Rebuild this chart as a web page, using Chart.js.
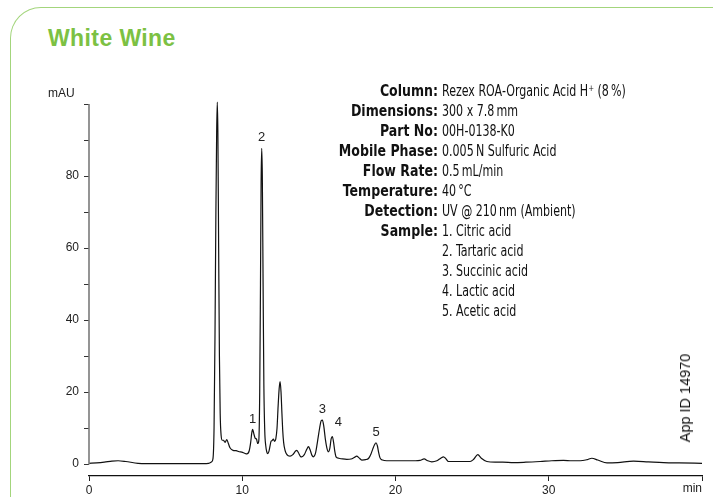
<!DOCTYPE html>
<html><head><meta charset="utf-8">
<script src="https://cdn.jsdelivr.net/npm/chart.js@4.4.0/dist/chart.umd.min.js"></script>
<style>
html,body{margin:0;padding:0;background:#fff;}
#wrap{position:relative;width:713px;height:497px;overflow:hidden;background:#fff;font-family:'Liberation Sans',Arial,sans-serif;color:#222;}
#frame{position:absolute;left:10px;top:7px;width:800px;height:600px;border-top:1.5px solid #a3d57c;border-left:1.5px solid #a3d57c;border-top-left-radius:31px;}
#title{position:absolute;left:48px;top:27px;font:bold 23px 'Liberation Sans',Arial,sans-serif;letter-spacing:0.4px;color:#7cc143;line-height:22px;white-space:nowrap;}
canvas{position:absolute;left:0;top:0;}
#mau{position:absolute;left:48px;top:86px;font-size:12px;line-height:14px;}
.row{position:absolute;left:0;width:713px;height:20px;line-height:20px;white-space:nowrap;font-family:'Liberation Sans Narrow','DejaVu Sans Condensed',sans-serif;font-size:15px;color:#111;}
.lab{position:absolute;left:0;width:438px;text-align:right;font-weight:bold;transform:scaleX(0.93);transform-origin:438px 50%;}
.val{position:absolute;left:442px;display:inline-block;transform:scaleX(0.82);transform-origin:0 50%;}
#appid{position:absolute;left:685px;top:398px;transform:translate(-50%,-50%) rotate(-90deg);font-size:14.5px;font-weight:normal;white-space:nowrap;color:#111;}
</style></head>
<body>
<div id="wrap">
  <div id="frame"></div>
  <div id="title">White Wine</div>
  <canvas id="c" width="713" height="497"></canvas>
  <div id="mau">mAU</div>
  <div id="info"></div>
  <div id="appid">App ID 14970</div>
</div>
<script>
// ---- data ----
const times = [0.0,0.5,1.0,1.5,1.9,2.4,3.2,4.5,6.0,7.0,7.8,8.0,8.09,8.16,8.22,8.28,8.33,8.37,8.41,8.46,8.51,8.56,8.62,8.70,8.77,8.88,8.99,9.10,9.20,9.40,9.60,9.80,9.97,10.15,10.30,10.45,10.55,10.62,10.68,10.75,10.84,10.93,11.01,11.08,11.14,11.19,11.23,11.27,11.31,11.36,11.41,11.47,11.53,11.60,11.66,11.74,11.82,11.88,11.95,12.03,12.11,12.19,12.27,12.34,12.41,12.47,12.53,12.59,12.64,12.70,12.78,12.86,13.00,13.12,13.30,13.48,13.56,13.66,13.80,13.88,14.05,14.20,14.32,14.42,14.55,14.64,14.78,14.92,15.05,15.15,15.23,15.32,15.42,15.52,15.62,15.72,15.80,15.88,15.96,16.04,16.12,16.30,16.55,16.82,17.10,17.30,17.47,17.62,17.80,18.05,18.25,18.40,18.52,18.64,18.73,18.82,18.90,18.99,19.15,19.43,20.0,20.8,21.3,21.6,21.87,22.1,22.37,22.7,22.95,23.13,23.3,23.45,23.8,24.4,24.87,25.1,25.37,25.6,25.96,26.5,27.0,27.7,28.5,29.44,30.2,30.96,31.5,32.05,32.5,32.81,33.2,33.8,34.5,35.53,36.5,37.49,38.5,40.0];
const signal = [0.2,0.3,0.5,0.8,0.9,0.7,0.2,0.1,0.1,0.1,0.2,0.6,1.5,10,35,70,92,100.5,92,60,30,14,8,6.6,6.6,6.0,6.8,5.6,4.5,3.8,3.7,3.4,3.3,3.0,2.8,3.6,6.0,8.6,9.6,8.5,7.2,6.9,5.7,6.5,20,50,78,87.7,80,50,22,9,5.2,3.4,2.9,3.5,5.2,6.3,6.5,6.9,6.3,7.0,10,16,21,22.9,20,14,9.4,6,4,3,2.3,2.2,2.6,3.6,3.8,3.2,2.1,2.0,2.6,4.0,4.8,4.0,2.4,2.0,3.0,6.5,10,12,12.2,10.5,7,4.5,3.4,4.5,7,7.6,6,3.5,2.0,1.6,1.4,1.3,1.4,1.8,2.2,1.7,1.1,1.2,1.6,2.8,4.2,5.4,5.9,5.0,3.2,1.7,1.1,0.9,0.9,0.9,0.9,1.0,1.4,0.9,0.6,0.9,1.6,2.0,1.4,0.7,0.7,0.7,0.7,1.3,2.6,1.6,0.7,0.5,0.5,0.4,0.5,0.7,0.9,1.0,0.9,0.9,1.2,1.6,1.1,0.3,0.4,0.8,0.6,0.4,0.3,0.2];
const peakNames = ['1','2','3','4','5'];
const peakTimes = [10.68, 11.27, 15.23, 15.88, 18.73];
const peakHeights = [9.6, 87.7, 12.2, 7.6, 5.9];
const xTicks = [0,10,20,30,40];
const xTickLabels = ['0','10','20','30','min'];
const yTicks = [0,10,20,30,40,50,60,70,80,90,100];
const yTickLabels = ['0','','20','','40','','60','','80','',''];
const infoLabels = ['Column:','Dimensions:','Part No:','Mobile Phase:','Flow Rate:','Temperature:','Detection:','Sample:','','','',''];
const infoValues = ['Rezex ROA-Organic Acid H\u207A (8\u2009%)','300 x 7.8\u2009mm','00H-0138-K0','0.005\u2009N Sulfuric Acid','0.5\u2009mL/min','40\u2009\u00B0C','UV @ 210\u2009nm (Ambient)','1. Citric acid','2. Tartaric acid','3. Succinic acid','4. Lactic acid','5. Acetic acid'];

// ---- info block ----
const info = document.getElementById('info');
infoLabels.forEach((l,i)=>{
  const r=document.createElement('div'); r.className='row'; r.style.top=(81+i*20)+'px';
  const a=document.createElement('span'); a.className='lab'; a.textContent=l;
  const b=document.createElement('span'); b.className='val'; b.textContent=infoValues[i];
  r.appendChild(a); r.appendChild(b); info.appendChild(r);
});

const FONT='Liberation Sans, Arial, sans-serif';
const custom = {
  id:'custom',
  afterDatasetsDraw(chart){
    const c=chart.ctx, x=chart.scales.x, y=chart.scales.y;
    c.save();
    // y axis line (0..100)
    c.strokeStyle='#7a7a7a'; c.lineWidth=1.6;
    c.beginPath(); c.moveTo(x.getPixelForValue(0), y.getPixelForValue(0)+0.5);
    c.lineTo(x.getPixelForValue(0), y.getPixelForValue(100)); c.stroke();
    // peak labels
    c.fillStyle='#222'; c.font='13px '+FONT; c.textAlign='center'; c.textBaseline='bottom';
    peakNames.forEach((n,i)=>{
      const dx = (n==='4') ? 6 : 0;
      const dy = (n==='4') ? 8 : 4;
      c.fillText(n, x.getPixelForValue(peakTimes[i])+dx, y.getPixelForValue(peakHeights[i])-dy);
    });
    c.restore();
  }
};

new Chart(document.getElementById('c'), {
  type:'line',
  data:{datasets:[{data:times.map((t,i)=>({x:t,y:signal[i]})), borderColor:'#111', borderWidth:1.2, pointRadius:0, cubicInterpolationMode:'monotone', clip:false, fill:false}]},
  options:{
    responsive:false, animation:false, devicePixelRatio:1,
    layout:{padding:{left:0,top:104,right:11,bottom:0}},
    plugins:{legend:{display:false}, tooltip:{enabled:false}},
    scales:{
      x:{type:'linear', min:0, max:40,
        afterBuildTicks:s=>{s.ticks=xTicks.map(v=>({value:v}));},
        afterFit:s=>{s.height=21;},
        grid:{drawOnChartArea:false, tickLength:5, color:'#222', lineWidth:1},
        border:{display:true, color:'#111', width:1.3},
        ticks:{padding:2, color:'#222', maxRotation:0, autoSkip:false, font:{family:FONT,size:12},
          callback:(v)=>{const i=xTicks.indexOf(v); return i<0?'':(i===xTicks.length-1?'':xTickLabels[i]);}}
      },
      y:{type:'linear', min:-3.333, max:100,
        afterBuildTicks:s=>{s.ticks=yTicks.map(v=>({value:v}));},
        afterFit:s=>{s.width=89;},
        grid:{drawOnChartArea:false, tickLength:5, color:'#333', lineWidth:1},
        border:{display:false},
        ticks:{padding:5, color:'#222', autoSkip:false, font:{family:FONT,size:12},
          callback:(v)=>{const i=yTicks.indexOf(v); return i<0?'':yTickLabels[i];}}
      }
    }
  },
  plugins:[custom, {id:'minlabel', afterDraw(chart){
    const c=chart.ctx, x=chart.scales.x;
    c.save(); c.fillStyle='#222'; c.font='12px '+FONT; c.textAlign='right'; c.textBaseline='top';
    c.fillText(xTickLabels[xTickLabels.length-1], x.getPixelForValue(xTicks[xTicks.length-1]), x.top+7);
    c.restore();
  }}]
});
</script>
</body></html>
